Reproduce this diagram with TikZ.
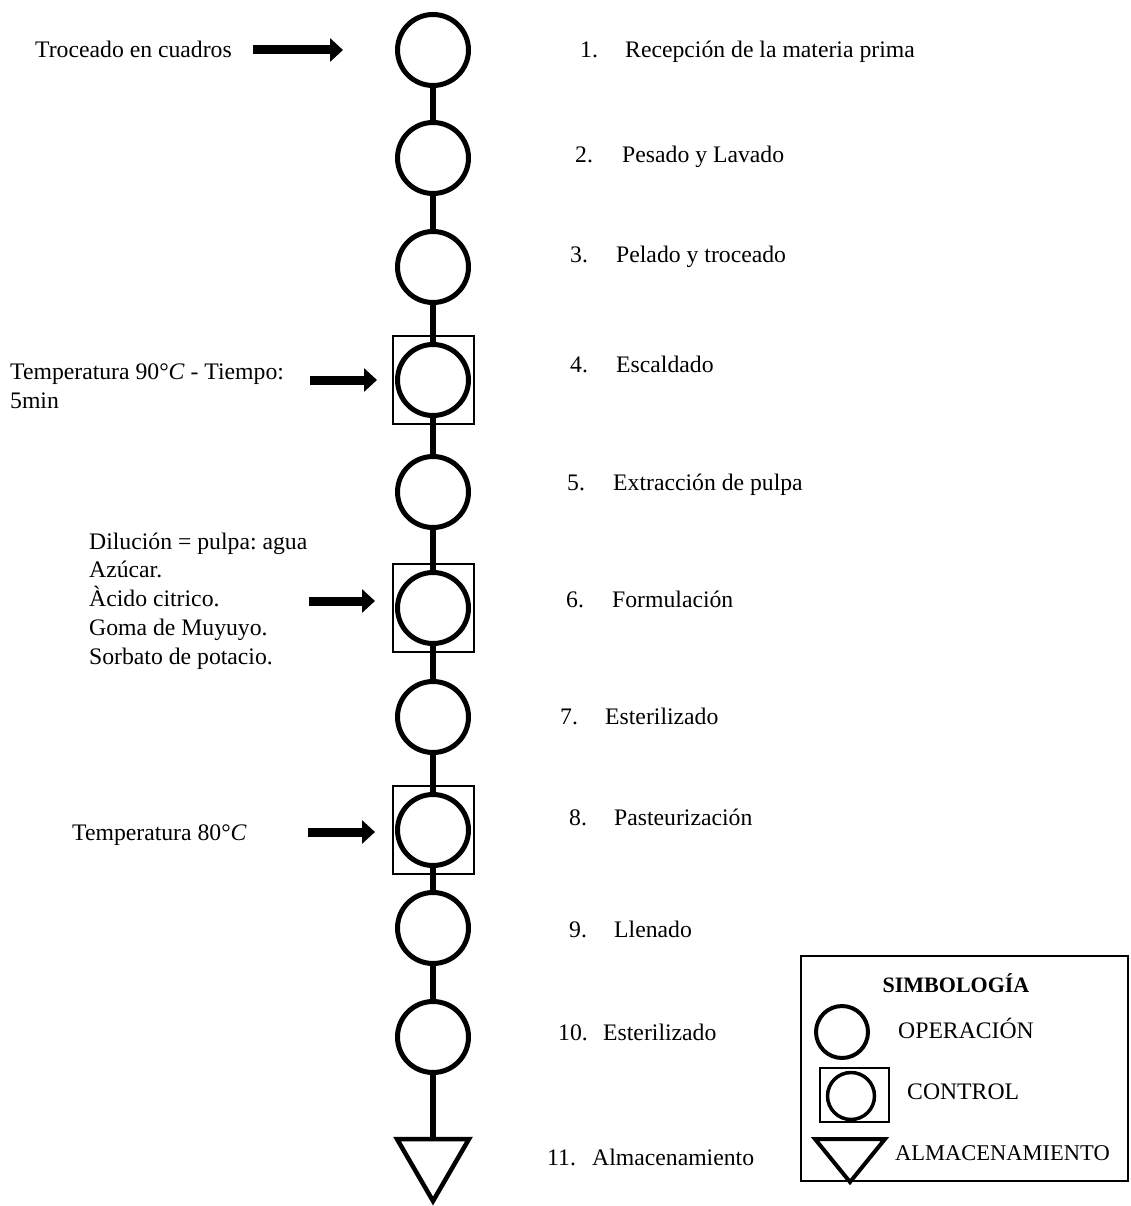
\documentclass[tikz,border=0pt]{standalone}
\usepackage{fontspec}
\setmainfont{Liberation Serif}
\usetikzlibrary{arrows.meta}
\frenchspacing

\begin{document}
\frenchspacing
\begin{tikzpicture}[x = 1pt, y = -1pt,
  oper/.style = {draw, circle, line width = 5pt, minimum size = 71pt, inner sep = 0pt},
  ctrl/.style = {draw, rectangle, line width = 2pt, minimum width = 81pt, minimum height = 88pt, inner sep = 0pt},
  enlace/.style = {line width = 5.5pt},
  flecha/.style = {line width = 9pt, -{Triangle[length = 13pt, width = 23pt]}},
  almac/.style = {line width = 4.5pt, line join = miter},
  etiq/.style = {anchor = west, inner sep = 0pt, yshift = -5pt, text height = 0.7em, text depth = 0.22em, font = \fontsize{23.7}{28.75}\selectfont},
  nota/.style = {anchor = west, inner sep = 0pt, align = left, font = \fontsize{23.7}{28.75}\selectfont}]
\useasboundingbox (0, 0) rectangle (1131, 1206);
\node [oper] (op1) at (433, 50) {};
\node [oper] (op2) at (433, 158) {};
\node [oper] (op3) at (433, 267) {};
\node [ctrl] (ctl4) at (433, 380) {}; \node [oper] (op4) at (433, 380) {};
\node [oper] (op5) at (433, 492) {};
\node [ctrl] (ctl6) at (433, 608) {}; \node [oper] (op6) at (433, 608) {};
\node [oper] (op7) at (433, 717) {};
\node [ctrl] (ctl8) at (433, 830) {}; \node [oper] (op8) at (433, 830) {};
\node [oper] (op9) at (433, 928) {};
\node [oper] (op10) at (433, 1037) {};
\coordinate (alm) at (433, 1139);
\draw [almac] (397, 1139) -- (469, 1139) -- (433, 1201) -- cycle;
\draw [enlace] (op1) -- (op2); \draw [enlace] (op2) -- (op3);
\draw [enlace] (op3) -- (op4); \draw [enlace] (op4) -- (op5);
\draw [enlace] (op5) -- (op6); \draw [enlace] (op6) -- (op7);
\draw [enlace] (op7) -- (op8); \draw [enlace] (op8) -- (op9);
\draw [enlace] (op9) -- (op10); \draw [enlace] (op10) -- (alm);
\node [etiq] (n1) at (580, 50) {1.}; \node [etiq] (t1) at (625, 50) {Recepción de la materia prima};
\node [etiq] (n2) at (575, 155) {2.}; \node [etiq] (t2) at (622, 155) {Pesado y Lavado};
\node [etiq] (n3) at (570, 255) {3.}; \node [etiq] (t3) at (616, 255) {Pelado y troceado};
\node [etiq] (n4) at (570, 365) {4.}; \node [etiq] (t4) at (616, 365) {Escaldado};
\node [etiq] (n5) at (567, 483) {5.}; \node [etiq] (t5) at (613, 483) {Extracción de pulpa};
\node [etiq] (n6) at (566, 600) {6.}; \node [etiq] (t6) at (612, 600) {Formulación};
\node [etiq] (n7) at (560, 717) {7.}; \node [etiq] (t7) at (605, 717) {Esterilizado};
\node [etiq] (n8) at (569, 818) {8.}; \node [etiq] (t8) at (614, 818) {Pasteurización};
\node [etiq] (n9) at (569, 930) {9.}; \node [etiq] (t9) at (614, 930) {Llenado};
\node [etiq] (n10) at (558, 1033) {10.}; \node [etiq] (t10) at (603, 1033) {Esterilizado};
\node [etiq] (n11) at (547, 1158) {11.}; \node [etiq] (t11) at (592, 1158) {Almacenamiento};
\node [etiq] (e1) at (35, 50) {Troceado en cuadros};
\node [nota] (e4) at (10, 386) {Temperatura 90°\textit{C} - Tiempo:\\5min};
\node [nota] (e6) at (89, 601) {Dilución = pulpa: agua\\Azúcar.\\Àcido citrico.\\Goma de Muyuyo.\\Sorbato de potacio.};
\node [etiq] (e8) at (72, 833) {Temperatura 80°\textit{C}};
\coordinate (f1i) at (253, 50); \coordinate (f1f) at (343, 50);
\coordinate (f4i) at (310, 380); \coordinate (f4f) at (377, 380);
\coordinate (f6i) at (309, 601); \coordinate (f6f) at (375, 601);
\coordinate (f8i) at (308, 832); \coordinate (f8f) at (375, 832);
\draw [flecha] (f1i) -- (f1f);
\draw [flecha] (f4i) -- (f4f);
\draw [flecha] (f6i) -- (f6f);
\draw [flecha] (f8i) -- (f8f);
\node [draw, line width = 2pt, minimum width = 327pt, minimum height = 225pt, inner sep = 0pt] (leyenda) at (964.5, 1068.5) {};
\node [inner sep = 0pt, font = \fontsize{22}{26}\selectfont\bfseries] (tit) at (956, 983) {SIMBOLOGÍA};
\node [oper, line width = 4pt, minimum size = 52pt] (sop) at (842, 1032) {};
\node [etiq] (sopt) at (898, 1031) {OPERACIÓN};
\node [ctrl, minimum width = 69pt, minimum height = 54pt] (sctl) at (854, 1095) {};
\node [oper, line width = 3.5pt, minimum size = 47pt] (sctc) at (851, 1096) {};
\node [etiq] (sctt) at (907, 1092) {CONTROL};
\draw [almac, line width = 4pt] (815, 1139) -- (885, 1139) -- (850, 1182) -- cycle;
\node [etiq, font = \fontsize{22.5}{27}\selectfont] (salt) at (895, 1153) {ALMACENAMIENTO};
\end{tikzpicture}
\end{document}
